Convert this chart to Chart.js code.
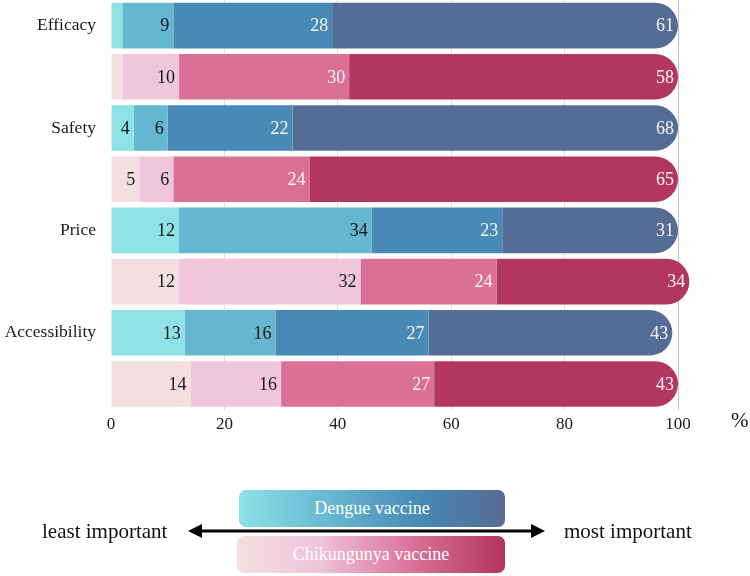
<!DOCTYPE html>
<html>
<head>
<meta charset="utf-8">
<script src="https://cdn.jsdelivr.net/npm/chart.js@4/dist/chart.umd.min.js"></script>
<style>
    body { margin: 0; background: #fff; font-family: "Liberation Serif", "Times New Roman", serif; }
    #wrap { position: relative; width: 750px; height: 576px; overflow: hidden; }
    #chartBox { position: absolute; left: 0; top: 0; width: 750px; height: 440px; }
    .txt { position: absolute; color: #111; white-space: nowrap; }
    .box { position: absolute; border-radius: 7px; color: #fff; font-size: 18px; text-align: center; }
</style>
</head>
<body>
<div id="wrap">
    <div id="chartBox"><canvas id="graphCanvas"></canvas></div>
    <div class="txt" id="pct" style="left:731px; top:408px; font-size:21px;">%</div>

    <div class="box" style="left:239px; top:490px; width:266px; height:37px; line-height:37px;
        background: linear-gradient(to right, #8ee1e6 0%, #65b6d0 35%, #4787b4 70%, #566b94 100%);">Dengue vaccine</div>
    <div class="box" style="left:237px; top:536px; width:268px; height:37px; line-height:37px;
        background: linear-gradient(to right, #f4dfe2 0%, #efc5d9 30%, #da7399 65%, #b1345d 100%);">Chikungunya vaccine</div>

    <svg style="position:absolute; left:0; top:0;" width="750" height="576">
        <line x1="198" y1="531" x2="535" y2="531" stroke="#000" stroke-width="3"/>
        <polygon points="188,531 202,524 202,538" fill="#000"/>
        <polygon points="545,531 531,524 531,538" fill="#000"/>
    </svg>
    <div class="txt" style="left:42px; top:519px; font-size:21px;">least important</div>
    <div class="txt" style="left:564px; top:519px; font-size:21px;">most important</div>
</div>

<script>
// rows: Dengue / Chikungunya for each attribute
var categories = ['Efficacy', '', 'Safety', '', 'Price', '', 'Accessibility', ''];
var xTicks = [0, 20, 40, 60, 80, 100];

// importance levels, least -> most important
var level1 = [2, 2, 4, 5, 12, 12, 13, 14];
var level2 = [9, 10, 6, 6, 34, 32, 16, 16];
var level3 = [28, 30, 22, 24, 23, 24, 27, 27];
var level4 = [61, 58, 68, 65, 31, 34, 43, 43];

var dengueColors = ['#8ee2e6', '#65b6d0', '#4889b5', '#556d96'];
var chikColors = ['#f3dee1', '#f0c6da', '#da7096', '#b3365f'];
var labelColors = ['#1a1a1a', '#1a1a1a', '#f4f4f4', '#f4f4f4'];

function rowColors(level) {
    var c = [];
    for (var i = 0; i < categories.length; i++) {
        c.push(i % 2 === 0 ? dengueColors[level] : chikColors[level]);
    }
    return c;
}

var barLabels = {
    id: 'barLabels',
    afterDatasetsDraw: function(chart) {
        var ctx = chart.ctx;
        ctx.save();
        ctx.font = '18px "Liberation Serif", serif';
        ctx.textAlign = 'right';
        ctx.textBaseline = 'middle';
        chart.data.datasets.forEach(function(ds, d) {
            var meta = chart.getDatasetMeta(d);
            meta.data.forEach(function(bar, i) {
                var v = ds.data[i];
                if (v < 3) return;
                ctx.fillStyle = labelColors[d];
                ctx.fillText(v, bar.x - 4, bar.y + 1);
            });
        });
        ctx.restore();
    }
};

function showGraph() {
    var data = [level1, level2, level3, level4];
    var datasets = [];
    for (var i = 0; i < data.length; i++) {
        datasets.push({
            label: 'level ' + (i + 1),
            data: data[i],
            backgroundColor: rowColors(i),
            borderWidth: 0,
            borderRadius: i === 3 ? 23 : 0,
            borderSkipped: 'start',
            clip: false
        });
    }

    new Chart(document.getElementById('graphCanvas'), {
        type: 'bar',
        data: { labels: categories, datasets: datasets },
        options: {
            indexAxis: 'y',
            responsive: true,
            maintainAspectRatio: false,
            animation: false,
            barPercentage: 1,
            categoryPercentage: 0.89,
            layout: { padding: { left: 0, right: 72, top: 0, bottom: 0 } },
            plugins: { legend: { display: false }, tooltip: { enabled: false } },
            scales: {
                x: {
                    stacked: true,
                    min: 0,
                    max: 100,
                    afterBuildTicks: function(scale) {
                        scale.ticks = xTicks.map(function(v) { return { value: v }; });
                    },
                    border: { display: false },
                    grid: {
                        drawTicks: false,
                        color: function(c) {
                            if (c.tick && c.tick.value === 100) return '#c4c4c4';
                            if (c.tick && c.tick.value === 0) return 'rgba(0,0,0,0)';
                            return '#dedede';
                        }
                    },
                    ticks: {
                        padding: 5,
                        color: '#1a1a1a',
                        font: { family: '"Liberation Serif", serif', size: 17 }
                    }
                },
                y: {
                    stacked: true,
                    afterFit: function(scale) {
                        scale.width = 111;
                        scale.paddingTop = 0;
                        scale.paddingBottom = 0;
                    },
                    border: { display: false },
                    grid: { display: false, drawTicks: false },
                    ticks: {
                        padding: 15,
                        color: '#1a1a1a',
                        font: { family: '"Liberation Serif", serif', size: 17.5 }
                    }
                }
            }
        },
        plugins: [barLabels]
    });
}

showGraph();
</script>
</body>
</html>
